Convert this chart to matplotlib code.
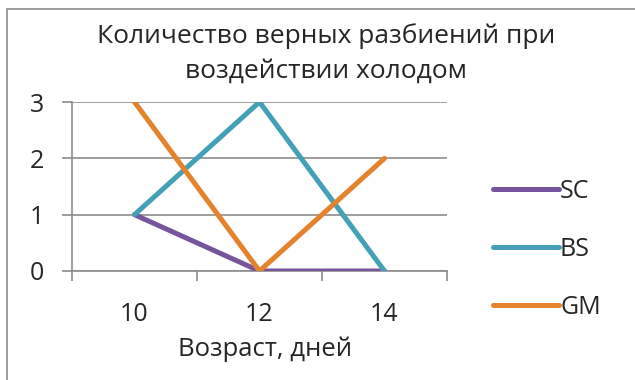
import matplotlib
matplotlib.use("Agg")
import matplotlib.pyplot as plt
from matplotlib.patches import Rectangle

plt.rcParams['font.family'] = ['Open Sans', 'DejaVu Sans']

ages = ["10", "12", "14"]
series_names = ["SC", "BS", "GM"]
sc_values = [1, 0, 0]
bs_values = [1, 3, 0]
gm_values = [3, 0, 2]
colors = ["#76559c", "#43a0b6", "#e5822c"]
y_ticks = [0, 1, 2, 3]
title_lines = ["Количество верных разбиений при", "воздействии холодом"]
x_title = "Возраст, дней"

W, H = 635, 380
TXT = "#262626"
fig = plt.figure(figsize=(W / 100, H / 100), dpi=100)
fig.patch.set_facecolor("white")

# chart frame
fig.add_artist(Rectangle((7 / W, -0.2), 1.2, 1 - 9 / H + 0.2,
                         transform=fig.transFigure, fill=False,
                         edgecolor="#8c8c8c", linewidth=1.2))

ax = fig.add_axes([72 / W, 1 - 271 / H, (447 - 72) / W, (271 - 102) / H])
x = list(range(len(ages)))
for name, vals, c in zip(series_names, [sc_values, bs_values, gm_values], colors):
    ax.plot(x, vals, color=c, linewidth=3.6, solid_capstyle="round",
            solid_joinstyle="round", label=name, zorder=3)

ax.set_xlim(-0.5, len(ages) - 0.5)
ax.set_ylim(0, 3)
ax.set_yticks(y_ticks)
ax.set_yticklabels([str(t) for t in y_ticks], fontsize=18, color=TXT)
ax.set_xticks(x)
ax.set_xticklabels(ages, fontsize=18, color=TXT)
ax.set_xticks([i - 0.5 for i in range(len(ages) + 1)], minor=True)
ax.tick_params(axis="x", which="major", length=0, pad=22)
ax.tick_params(axis="x", which="minor", length=7, width=1.2, color="#8c8c8c")
ax.tick_params(axis="y", length=7, width=1.2, color="#8c8c8c", pad=13)
ax.grid(axis="y", color="#8c8c8c", linewidth=1.2, zorder=1)
for s in ["top", "right"]:
    ax.spines[s].set_visible(False)
for s in ["left", "bottom"]:
    ax.spines[s].set_color("#8c8c8c")
    ax.spines[s].set_linewidth(1.2)

fig.text(265 / W, 1 - 356 / H, x_title, ha="center", va="baseline",
         fontsize=18.5, color=TXT)

for line, base in zip(title_lines, [43, 78]):
    fig.text(326 / W, 1 - base / H, line, ha="center", va="baseline",
             fontsize=19, color=TXT)

leg = fig.legend(loc="center left", bbox_to_anchor=(470 / W, 1 - 249 / H),
                 frameon=False, fontsize=18, handlelength=2.65, handletextpad=0.05,
                 labelspacing=1.32)
for t in leg.get_texts():
    t.set_color(TXT)

fig.savefig("out.png", dpi=100, facecolor="white")
